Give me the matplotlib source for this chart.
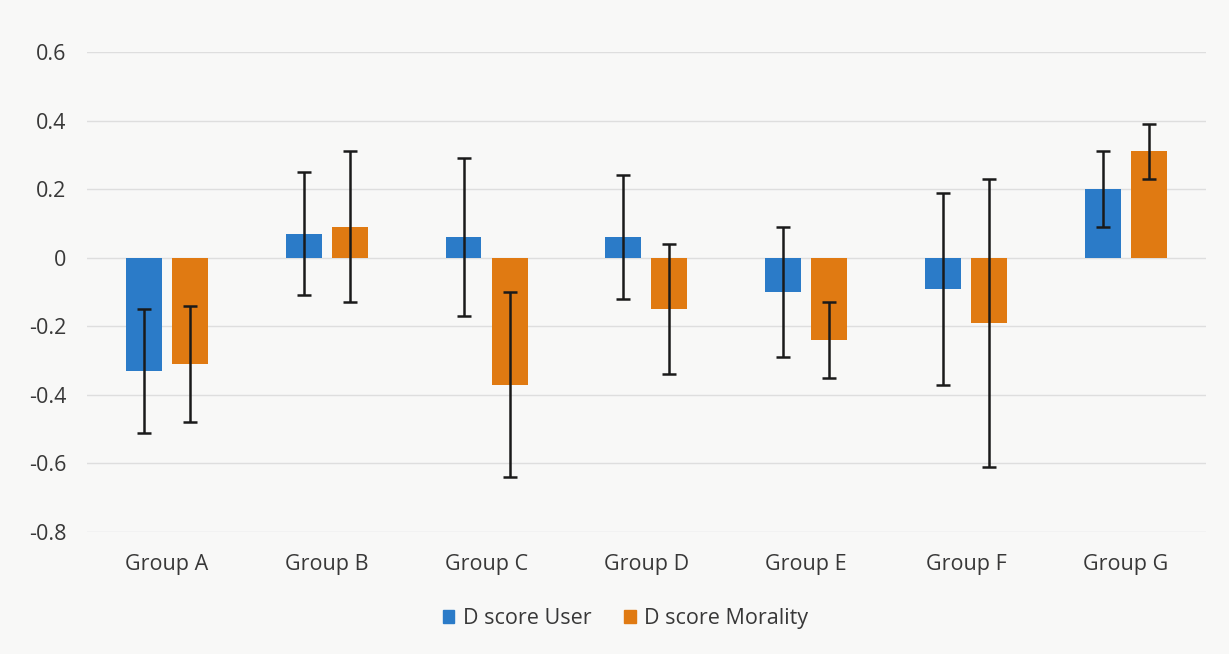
import numpy as np
import matplotlib.pyplot as plt
from matplotlib.patches import Patch

groups = ["Group A", "Group B", "Group C", "Group D", "Group E", "Group F", "Group G"]
user = [-0.33, 0.07, 0.06, 0.06, -0.10, -0.09, 0.20]
user_err = [0.18, 0.18, 0.23, 0.18, 0.19, 0.28, 0.11]
morality = [-0.31, 0.09, -0.37, -0.15, -0.24, -0.19, 0.31]
morality_err = [0.17, 0.22, 0.27, 0.19, 0.11, 0.42, 0.08]

blue = "#2b7bc8"
orange = "#e07a12"
bg = "#f8f8f7"

plt.rcParams['font.family'] = ['Open Sans', 'DejaVu Sans']

fig = plt.figure(figsize=(12.29, 6.54), dpi=100, facecolor=bg)
ax = fig.add_axes([0.0708, 0.1865, 0.9102, 0.734])
ax.set_facecolor(bg)

x = np.arange(len(groups))
w = 0.225
off = 0.144
err_kw = dict(ecolor="#1a1a1a", elinewidth=1.8, capsize=5, capthick=1.8)
ax.bar(x - off, user, w, color=blue, yerr=user_err, error_kw=err_kw, zorder=3)
ax.bar(x + off, morality, w, color=orange, yerr=morality_err, error_kw=err_kw, zorder=3)

ax.set_xlim(-0.5, len(groups) - 0.5)
ax.set_ylim(-0.8, 0.6)
ax.set_yticks(np.arange(-0.8, 0.61, 0.2))
ax.set_yticklabels(["-0.8", "-0.6", "-0.4", "-0.2", "0", "0.2", "0.4", "0.6"])
ax.set_xticks(x)
ax.set_xticklabels(groups)
ax.yaxis.grid(True, color="#dedede", linewidth=1, zorder=0)
ax.tick_params(axis="both", length=0, labelsize=15.5, labelcolor="#383838")
ax.tick_params(axis="y", pad=15)
ax.tick_params(axis="x", pad=16)
for s in ax.spines.values():
    s.set_visible(False)

handles = [Patch(color=blue, label="D score User"),
           Patch(color=orange, label="D score Morality")]
fig.legend(handles=handles, loc="center", bbox_to_anchor=(0.509, 0.054), ncol=2,
           frameon=False, fontsize=15.5, handlelength=0.55, handleheight=0.55,
           handletextpad=0.4, columnspacing=1.5, labelcolor="#383838")

fig.savefig("out.png", dpi=100, facecolor=bg)
